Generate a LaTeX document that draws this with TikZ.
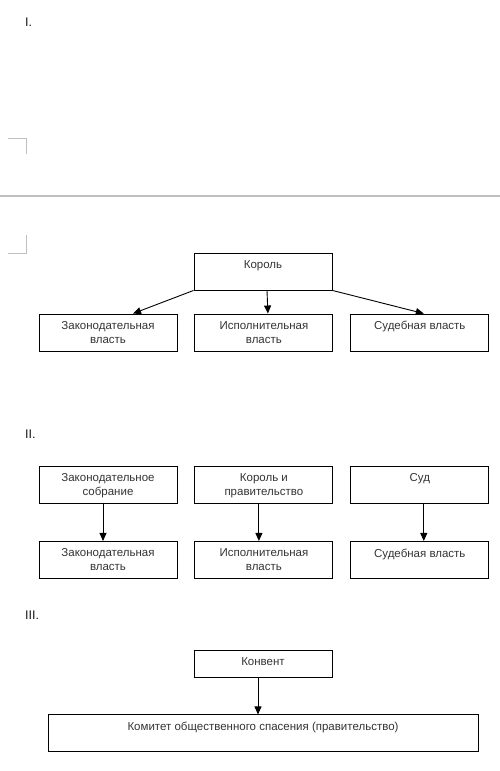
\documentclass[tikz,border=0pt]{standalone}
\usepackage{fontspec}
\setmainfont{Liberation Sans}
\usetikzlibrary{arrows.meta,positioning}
\begin{document}
\begin{tikzpicture}[
        x=1pt, y=-1pt,
        every node/.style = {font=\fontsize{11.5}{14}\selectfont, text=black!80},
        box/.style = {draw, line width=0.9pt, minimum width=138pt, minimum height=37pt, inner sep=0pt,
            label={[anchor=north, yshift=-7.5pt, align=center, inner sep=0pt]north:#1}},
        arr/.style = {-{Triangle[length=8pt,width=7pt]}, line width=0.9pt},
        cornermark/.style = {black!25, line width=0.8pt},
        numlabel/.style = {anchor=west, inner sep=0pt, font=\fontsize{12.5}{14}\selectfont, text=black!90}
        ]
        \useasboundingbox (0,0) rectangle (500,771);
        % part I
        \node[numlabel] (n1) at (25,22) {I.};
        \draw[cornermark] (8,138) -- (26,138) -- (26,154);
        \draw[black!25, line width=1.5pt] (0,196) -- (500,196);
        \draw[cornermark] (26,235) -- (26,253) -- (8,253);
        \node[box=Король] (king) at (263,271.5) {};
        \node[box={Законодательная\\власть}] (zak1) at (108,332.5) {};
        \node[box={Исполнительная\\власть}, right=17pt of zak1] (isp1) {};
        \node[box={Судебная власть}, right=17pt of isp1] (sud1) {};
        \draw[arr] (king.south west) -- ([xshift=25pt]zak1.north);
        \draw[arr] ([xshift=4pt]king.south) -- ([xshift=4pt]isp1.north);
        \draw[arr] (king.south east) -- ([xshift=4pt]sud1.north);
        % part II
        \node[numlabel] (n2) at (25,434) {II.};
        \node[box={Законодательное\\собрание}] (sobr) at (108,485) {};
        \node[box={Король и\\правительство}, right=17pt of sobr] (prav) {};
        \node[box=Суд, right=17pt of prav] (sud) {};
        \node[box={Законодательная\\власть}, below=37pt of sobr] (zak2) {};
        \node[box={Исполнительная\\власть}, below=37pt of prav] (isp2) {};
        \node[box={Судебная власть}, below=37pt of sud] (sud2) {};
        \draw[arr] ([xshift=-5pt]sobr.south) -- ([xshift=-5pt]zak2.north);
        \draw[arr] ([xshift=-5pt]prav.south) -- ([xshift=-5pt]isp2.north);
        \draw[arr] ([xshift=4pt]sud.south) -- ([xshift=4pt]sud2.north);
        % part III
        \node[numlabel] (n3) at (25,615) {III.};
        \node[box=Конвент, minimum height=27pt] (konv) at (263,663.5) {};
        \node[box={Комитет общественного спасения (правительство)}, minimum width=430pt,
            below=37pt of konv] (kom) {};
        \draw[arr] ([xshift=-5pt]konv.south) -- ([xshift=-5pt]kom.north);
\end{tikzpicture}
\end{document}
